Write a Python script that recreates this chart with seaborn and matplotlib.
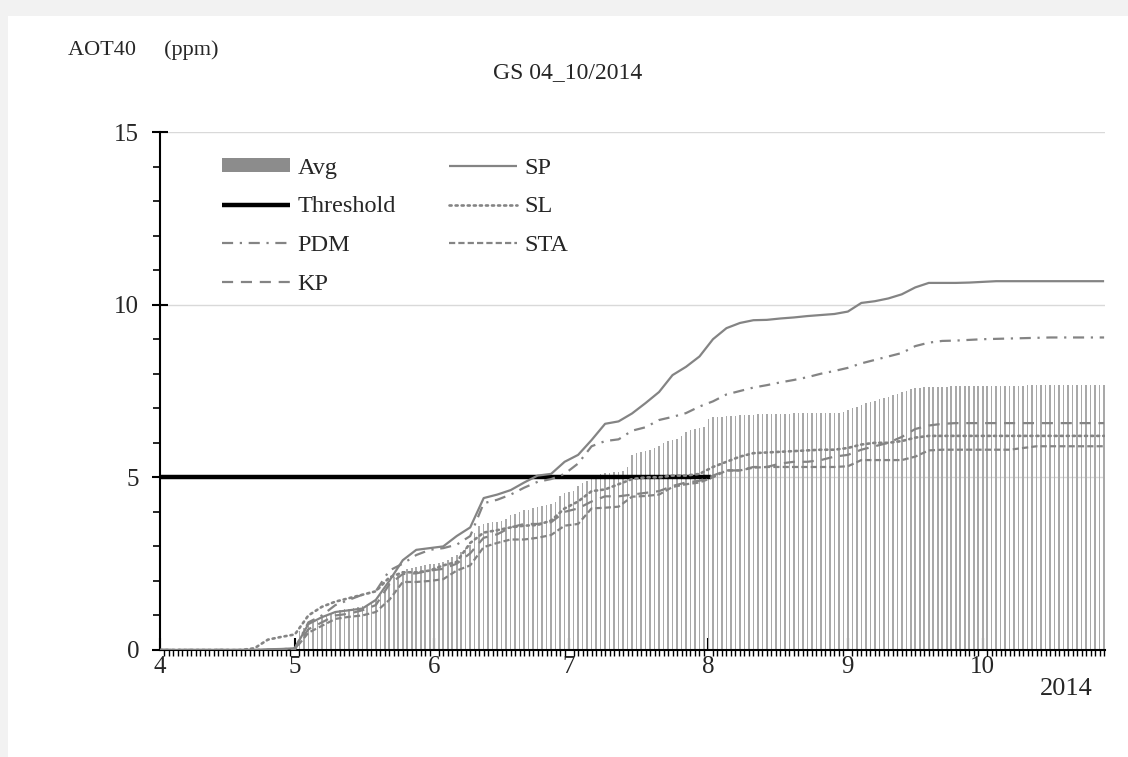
import matplotlib
matplotlib.use("Agg")
import numpy as np
import pandas as pd
import matplotlib.pyplot as plt
from matplotlib.lines import Line2D
from matplotlib.patches import Patch, Rectangle
import seaborn as sns

# ---------------- data ----------------
# day of the growing season (0 = 1 April 2014), sampled every 3 days for station curves
station_days = list(range(0, 211, 3))

sp = [0.0, 0.0, 0.0, 0.0, 0.0, 0.0, 0.0, 0.0, 0.02, 0.03,
      0.05, 0.75, 0.95, 1.1, 1.15, 1.2, 1.45, 2.0, 2.6, 2.9,
      2.95, 3.0, 3.3, 3.55, 4.4, 4.5, 4.63, 4.85, 5.05, 5.1,
      5.45, 5.65, 6.08, 6.55, 6.62, 6.85, 7.15, 7.47, 7.96, 8.2,
      8.5, 9.0, 9.32, 9.47, 9.55, 9.56, 9.6, 9.63, 9.67, 9.7,
      9.73, 9.8, 10.05, 10.1, 10.18, 10.3, 10.5, 10.63, 10.63, 10.63,
      10.64, 10.66, 10.68, 10.68, 10.68, 10.68, 10.68, 10.68, 10.68, 10.68, 10.68]

pdm = [0.0, 0.0, 0.0, 0.0, 0.0, 0.0, 0.0, 0.0, 0.01, 0.02,
       0.05, 0.8, 1.0, 1.3, 1.45, 1.6, 1.7, 2.3, 2.5, 2.75,
       2.9, 2.95, 3.05, 3.3, 4.25, 4.35, 4.5, 4.7, 4.87, 4.95,
       5.1, 5.4, 5.9, 6.05, 6.1, 6.35, 6.45, 6.66, 6.75, 6.86,
       7.05, 7.2, 7.4, 7.5, 7.6, 7.67, 7.75, 7.82, 7.9, 8.0,
       8.08, 8.17, 8.3, 8.4, 8.5, 8.6, 8.8, 8.9, 8.95, 8.96,
       8.98, 9.0, 9.01, 9.02, 9.03, 9.04, 9.05, 9.05, 9.05, 9.05, 9.05]

sl = [0.0, 0.0, 0.0, 0.0, 0.0, 0.0, 0.0, 0.05, 0.3, 0.38,
      0.45, 1.0, 1.25, 1.4, 1.5, 1.6, 1.7, 2.1, 2.25, 2.25,
      2.3, 2.45, 2.55, 3.1, 3.4, 3.47, 3.55, 3.6, 3.62, 3.75,
      4.1, 4.3, 4.6, 4.65, 4.8, 4.95, 5.0, 5.0, 5.05, 5.05,
      5.1, 5.3, 5.45, 5.6, 5.7, 5.72, 5.74, 5.76, 5.78, 5.8,
      5.8, 5.85, 5.95, 6.0, 6.0, 6.05, 6.15, 6.2, 6.2, 6.2,
      6.2, 6.2, 6.2, 6.2, 6.2, 6.2, 6.2, 6.2, 6.2, 6.2, 6.2]

kp = [0.0, 0.0, 0.0, 0.0, 0.0, 0.0, 0.0, 0.0, 0.0, 0.0,
      0.02, 0.6, 0.8, 1.0, 1.05, 1.15, 1.3, 1.9, 2.2, 2.22,
      2.3, 2.35, 2.5, 2.8, 3.25, 3.35, 3.55, 3.65, 3.65, 3.7,
      4.0, 4.1, 4.3, 4.45, 4.45, 4.5, 4.55, 4.6, 4.75, 4.85,
      4.9, 5.05, 5.2, 5.2, 5.3, 5.3, 5.4, 5.45, 5.45, 5.5,
      5.6, 5.65, 5.8, 5.9, 6.0, 6.17, 6.4, 6.5, 6.55, 6.57,
      6.57, 6.57, 6.57, 6.57, 6.57, 6.57, 6.57, 6.57, 6.57, 6.57, 6.57]

sta = [0.0, 0.0, 0.0, 0.0, 0.0, 0.0, 0.0, 0.0, 0.0, 0.0,
       0.02, 0.5, 0.7, 0.9, 0.96, 1.0, 1.1, 1.45, 1.97, 1.97,
       2.0, 2.05, 2.3, 2.45, 2.98, 3.1, 3.2, 3.2, 3.25, 3.33,
       3.6, 3.65, 4.1, 4.12, 4.15, 4.44, 4.46, 4.5, 4.72, 4.8,
       4.85, 5.0, 5.2, 5.2, 5.28, 5.3, 5.3, 5.3, 5.3, 5.3,
       5.3, 5.32, 5.5, 5.5, 5.5, 5.5, 5.6, 5.78, 5.8, 5.8,
       5.8, 5.8, 5.8, 5.8, 5.85, 5.9, 5.9, 5.9, 5.9, 5.9, 5.9]

# daily average (bars)
avg_days = list(range(0, 211))
avg = [0, 0, 0, 0, 0, 0, 0, 0, 0, 0,
       0, 0, 0, 0, 0, 0, 0, 0, 0, 0,
       0, 0, 0, 0, 0, 0, 0, 0, 0, 0,
       0, 0.55, 0.65, 0.7, 0.8, 0.85, 0.95, 1.0, 1.05, 1.1,
       1.15, 1.18, 1.2, 1.22, 1.25, 1.28, 1.3, 1.35, 1.45, 1.6,
       1.75, 1.95, 2.1, 2.2, 2.3, 2.35, 2.38, 2.4, 2.42, 2.45,
       2.48, 2.5, 2.52, 2.55, 2.6, 2.68, 2.75, 2.85, 2.95, 3.05,
       3.4, 3.6, 3.65, 3.68, 3.7, 3.72, 3.75, 3.8, 3.9, 3.95,
       4.0, 4.05, 4.05, 4.1, 4.15, 4.18, 4.2, 4.22, 4.3, 4.45,
       4.55, 4.58, 4.6, 4.75, 4.85, 4.9, 5.0, 5.05, 5.1, 5.12,
       5.13, 5.15, 5.15, 5.18, 5.3, 5.65, 5.7, 5.72, 5.75, 5.8,
       5.85, 5.9, 6.0, 6.05, 6.08, 6.1, 6.2, 6.3, 6.37, 6.4,
       6.42, 6.45, 6.7, 6.75, 6.75, 6.76, 6.77, 6.78, 6.79, 6.8,
       6.8, 6.81, 6.81, 6.82, 6.82, 6.83, 6.83, 6.83, 6.84, 6.84,
       6.84, 6.85, 6.85, 6.85, 6.85, 6.86, 6.86, 6.86, 6.86, 6.87,
       6.87, 6.87, 6.88, 6.95, 7.02, 7.05, 7.1, 7.14, 7.18, 7.22,
       7.26, 7.3, 7.34, 7.38, 7.42, 7.46, 7.5, 7.55, 7.58, 7.6,
       7.61, 7.62, 7.62, 7.63, 7.63, 7.63, 7.64, 7.64, 7.64, 7.64,
       7.65, 7.65, 7.65, 7.65, 7.65, 7.65, 7.65, 7.65, 7.65, 7.65,
       7.65, 7.65, 7.65, 7.66, 7.66, 7.66, 7.66, 7.66, 7.66, 7.66,
       7.66, 7.66, 7.67, 7.67, 7.67, 7.67, 7.67, 7.67, 7.67, 7.67, 7.67]

threshold_days = [0, 122.5]
threshold_vals = [5, 5]

month_start_days = [0, 30, 61, 91, 122, 153, 183]
month_labels = ["4", "5", "6", "7", "8", "9", "10"]
y_ticks = [0, 5, 10, 15]

# ---------------- style ----------------
sns.set_theme(style="white")
plt.rcParams["font.family"] = ["Liberation Serif", "DejaVu Serif"]
plt.rcParams["lines.solid_capstyle"] = "butt"

W, H = 1128, 757
fig = plt.figure(figsize=(W / 100, H / 100), dpi=100)
fig.patch.set_facecolor("#f2f2f2")
fig.add_artist(Rectangle((8 / W, 0), 1, 1 - 16 / H, transform=fig.transFigure,
                         facecolor="white", edgecolor="none", zorder=-10))

ax = fig.add_axes([160 / W, 1 - 650 / H, (1105 - 160) / W, (650 - 132) / H])
ax.set_facecolor("none")

LINE = "#848484"
LW = 1.6

# bars (Avg)
ax.bar(avg_days, avg, width=0.35, color="#a9a9a9", linewidth=0, zorder=1)

# threshold
sns.lineplot(x=threshold_days, y=threshold_vals, ax=ax, color="black", lw=3.2,
             zorder=2, estimator=None, sort=False)

df = pd.DataFrame({"day": station_days, "SP": sp, "PDM": pdm, "SL": sl, "KP": kp, "STA": sta})
styles = {
    "SP": "-",
    "SL": (0, (0.8, 1.5)),
    "PDM": (0, (5, 3, 1, 3)),
    "STA": (0, (2.8, 1.4)),
    "KP": (0, (5, 3.5)),
}
for name in ["STA", "KP", "SL", "PDM", "SP"]:
    sns.lineplot(data=df, x="day", y=name, ax=ax, color=LINE,
                 lw=1.9 if name == "SL" else LW,
                 linestyle=styles[name], zorder=3, estimator=None,
                 dash_capstyle="round" if name == "SL" else "butt")

# axes
ax.set_xlim(0, 210.2)
ax.set_ylim(0, 15)
ax.set_xticks(month_start_days)
ax.set_xticklabels(month_labels)
ax.set_xticks(avg_days, minor=True)
ax.set_yticks(y_ticks)
ax.set_yticks(range(0, 16), minor=True)
ax.set_xlabel("")
ax.set_ylabel("")

for y in [5, 10, 15]:
    ax.axhline(y, color="#d9d9d9", lw=1.0, zorder=0)

for s in ["top", "right"]:
    ax.spines[s].set_visible(False)
for s in ["left", "bottom"]:
    ax.spines[s].set_color("black")
    ax.spines[s].set_linewidth(1.5)

ax.tick_params(axis="x", which="major", direction="in", length=9, width=1.5,
               color="black", labelsize=18, pad=4, bottom=True)
ax.tick_params(axis="x", which="minor", direction="out", length=4, width=1.0,
               color="black", bottom=True)
ax.tick_params(axis="y", which="major", direction="inout", length=12, width=1.5,
               color="black", labelsize=18, pad=9, left=True)
ax.tick_params(axis="y", which="minor", direction="out", length=5, width=1.2,
               color="black", left=True)

# legend
handles = [
    Patch(facecolor="#8c8c8c", edgecolor="none", label="Avg"),
    Line2D([], [], color="black", lw=3.2, label="Threshold"),
    Line2D([], [], color=LINE, lw=LW, linestyle=styles["PDM"], label="PDM"),
    Line2D([], [], color=LINE, lw=LW, linestyle=styles["KP"], label="KP"),
    Line2D([], [], color=LINE, lw=LW, label="SP"),
    Line2D([], [], color=LINE, lw=1.9, linestyle=styles["SL"], dash_capstyle="round", label="SL"),
    Line2D([], [], color=LINE, lw=LW, linestyle=styles["STA"], label="STA"),
]
fig.legend(handles=handles, loc="upper left", bbox_to_anchor=(222 / W, 1 - 158 / H),
           ncol=2, frameon=False, fontsize=17.5, handlelength=2.8, handleheight=0.5,
           handletextpad=0.3, labelspacing=0.72, columnspacing=2.2,
           borderpad=0, borderaxespad=0)

# texts
fig.text(68 / W, 1 - 50 / H, "AOT40     (ppm)", fontsize=16, ha="left", va="center")
fig.text(568 / W, 1 - 73 / H, "GS 04_10/2014", fontsize=17, ha="center", va="center")
fig.text(1066 / W, 1 - 689 / H, "2014", fontsize=19, ha="center", va="center")

fig.savefig("out.png", dpi=100, facecolor=fig.get_facecolor())
